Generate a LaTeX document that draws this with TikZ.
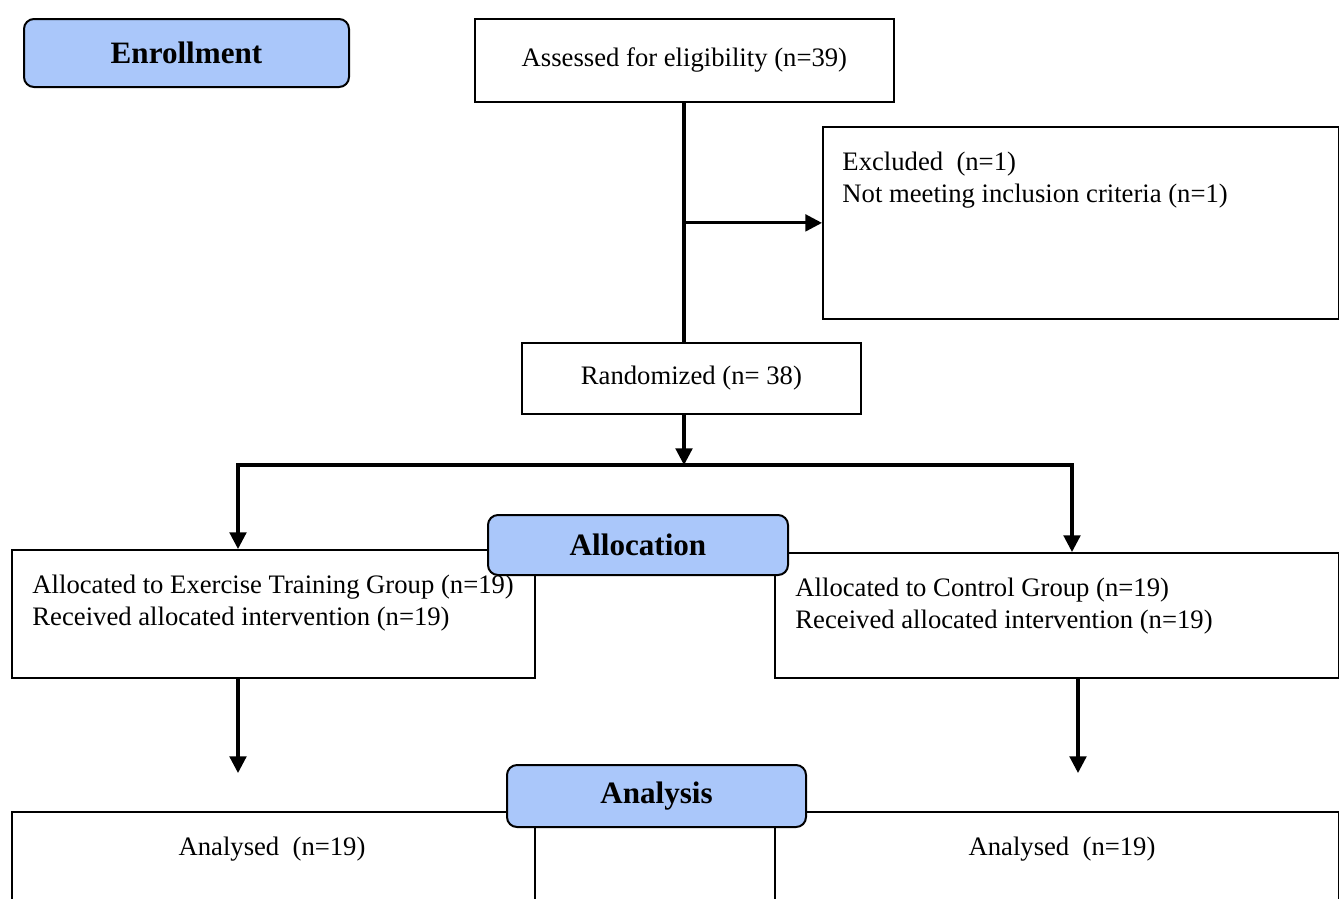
\documentclass[tikz,border=0pt]{standalone}
\usepackage{fontspec}
\setmainfont{Liberation Serif}
\usetikzlibrary{arrows.meta, positioning}
\definecolor{headblue}{RGB}{170,199,250}

\begin{document}
\begin{tikzpicture}[
        x=0.45pt, y=-0.45pt,
        font=\fontsize{12}{14}\selectfont,
        box/.style 2 args={rectangle, draw, line width=0.8pt, inner sep=0pt, anchor=north west,
                           minimum width=#1*0.45pt, minimum height=#2*0.45pt, align=center},
        stage/.style 2 args={box={#1}{#2}, rounded corners=4.5pt, fill=headblue, line width=0.9pt,
                             font=\fontsize{14}{16}\selectfont\bfseries},
        txt/.style={inner sep=0pt, anchor=base west, align=left},
        arrow/.style={-{Triangle[length=7.5pt, width=7.5pt]}, line width=1.4pt},
        line/.style={line width=1.4pt},
    ]
        \useasboundingbox (0,0) rectangle (1339,898);
        \clip (0,0) rectangle (1339,898);

        % enrollment
        \node[stage={325}{68}] (enrol) at (23,18) {Enrollment};
        \node[box={419}{83}] (assess) at (474,18) {Assessed for eligibility (n=39)};
        \node[box={516}{192}] (excl) at (822,126) {};
        \node[txt] (excltxt) at (842,202) {Excluded\ \ (n=1)\\Not meeting inclusion criteria (n=1)};
        \node[box={339}{71}] (rand) at (521,342) {Randomized (n= 38)};

        % allocation
        \node[box={523}{128}] (exer) at (11,549) {};
        \node[txt] (exertxt) at (32,625) {Allocated to Exercise Training Group (n=19)\\Received allocated intervention (n=19)};
        \node[box={564}{125}] (ctrl) at (774,552) {};
        \node[txt] (ctrltxt) at (795,628) {Allocated to Control Group (n=19)\\Received allocated intervention (n=19)};
        \node[stage={300}{60}] (alloc) at (487,514) {Allocation};

        % analysis
        \node[box={523}{150}] (anaL) at (11,811) {};
        \node[inner sep=0pt] (anaLtxt) at (272,849) {Analysed\ \ (n=19)};
        \node[box={564}{150}] (anaR) at (774,811) {};
        \node[inner sep=0pt] (anaRtxt) at (1062,849) {Analysed\ \ (n=19)};
        \node[stage={299}{62}] (analys) at (506,764) {Analysis};

        \coordinate (splitC) at (684,465);
        \coordinate (splitL) at (238,465);
        \coordinate (splitR) at (1072,465);
        \coordinate (downL) at (238,773);
        \coordinate (downR) at (1078,773);

        \draw[line] (assess.south -| splitC) -- (rand.north -| splitC);
        \draw[arrow] (splitC |- excl.west) -- (excl.west);
        \draw[arrow] (rand.south -| splitC) -- (splitC);
        \draw[arrow] (splitC) -| (splitL |- exer.north);
        \draw[arrow] (splitC) -| (splitR |- ctrl.north);
        \draw[arrow] (exer.south -| downL) -- (downL);
        \draw[arrow] (ctrl.south -| downR) -- (downR);
    \end{tikzpicture}
\end{document}
